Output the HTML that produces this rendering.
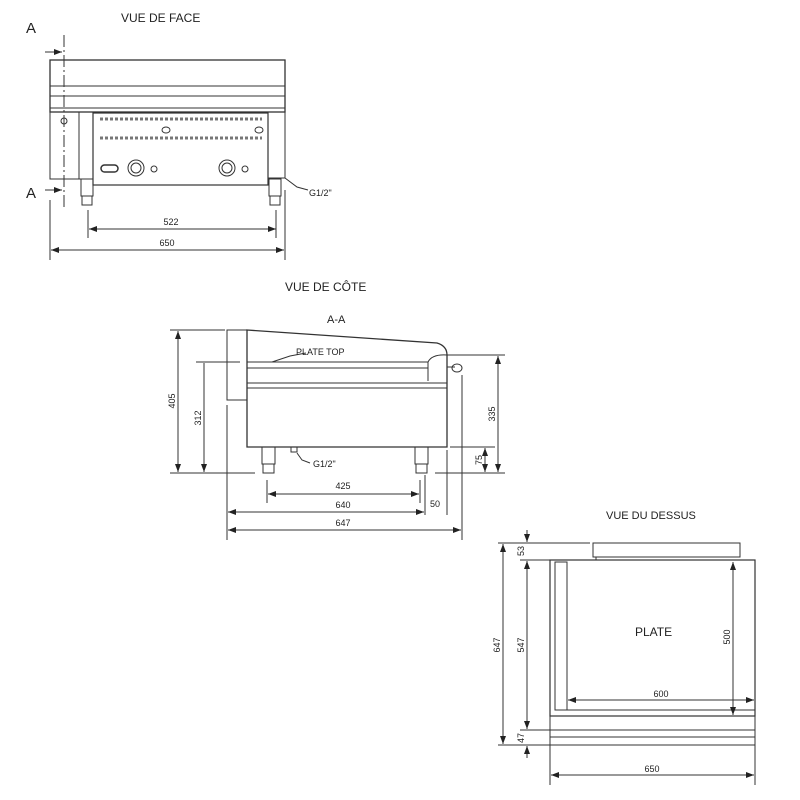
<!DOCTYPE html>
<html><head><meta charset="utf-8"><style>
html,body{margin:0;padding:0;background:#fff}
svg{display:block}
text{font-family:"Liberation Sans",sans-serif;fill:#222}
</style></head><body>
<svg width="800" height="800" viewBox="0 0 800 800" xmlns="http://www.w3.org/2000/svg">
<defs>
<marker id="a" markerWidth="8" markerHeight="6" refX="8" refY="3" orient="auto-start-reverse"><path d="M0,0 L8,3 L0,6 z" fill="#222"/></marker>
</defs>
<g stroke="#333" fill="none" stroke-width="1">
<!-- FRONT VIEW -->
<rect x="50" y="60" width="235" height="52" stroke-width="1.3"/>
<line x1="50" y1="86" x2="285" y2="86"/>
<line x1="50" y1="96" x2="285" y2="96"/>
<line x1="50" y1="108" x2="285" y2="108"/>
<rect x="50" y="112" width="29" height="67"/>
<rect x="79" y="112" width="14" height="67"/>
<rect x="93" y="113" width="175" height="72" stroke-width="1.2"/>
<rect x="268" y="112" width="17" height="66"/>
<rect x="81" y="179" width="12" height="17"/><rect x="82" y="196" width="10" height="9"/>
<rect x="269" y="179" width="12" height="17"/><rect x="270" y="196" width="10" height="9"/>
<line x1="100" y1="119" x2="262" y2="119" stroke-dasharray="3,2" stroke-width="3" stroke="#777"/>
<line x1="100" y1="138" x2="262" y2="138" stroke-dasharray="3,2" stroke-width="3" stroke="#777"/>
<ellipse cx="166" cy="130" rx="4" ry="3"/><ellipse cx="259" cy="130" rx="4" ry="3"/>
<circle cx="64" cy="121" r="3"/>
<rect x="101" y="165" width="17" height="7" rx="3.5" stroke-width="1.5"/>
<circle cx="136" cy="168" r="8"/><circle cx="136" cy="168" r="5"/>
<circle cx="154" cy="169" r="3"/>
<circle cx="227" cy="168" r="8"/><circle cx="227" cy="168" r="5"/>
<circle cx="245" cy="169" r="3"/>
<line x1="64" y1="35" x2="64" y2="210" stroke-dasharray="12,3,2,3"/>
<line x1="45" y1="52" x2="62" y2="52" marker-end="url(#a)"/>
<line x1="45" y1="190" x2="62" y2="190" marker-end="url(#a)"/>
<path d="M285,178 L297,187 L308,190" />
<line x1="88" y1="210" x2="88" y2="238"/><line x1="276" y1="210" x2="276" y2="238"/>
<line x1="89" y1="229" x2="276" y2="229" marker-start="url(#a)" marker-end="url(#a)"/>
<line x1="50" y1="200" x2="50" y2="260"/><line x1="285" y1="190" x2="285" y2="260"/>
<line x1="51" y1="250" x2="284" y2="250" marker-start="url(#a)" marker-end="url(#a)"/>

<!-- SIDE VIEW -->
<path d="M227,330 L247,330 L247,400 L227,400 Z"/>
<path d="M247,330 L437,343 Q447,346 447,355 L447,447 L247,447 Z" stroke-width="1.3"/>
<line x1="247" y1="362" x2="428" y2="362"/>
<line x1="247" y1="368" x2="428" y2="368"/>
<line x1="247" y1="383" x2="447" y2="383"/>
<line x1="247" y1="388" x2="447" y2="388"/>
<path d="M428,362 Q432,354 447,355"/><line x1="428" y1="362" x2="428" y2="381"/>
<path d="M447,367 L455,367" /><ellipse cx="457" cy="368" rx="5" ry="4"/>
<path d="M306,353 L290,356 L272,362"/>
<rect x="262" y="447" width="13" height="17"/><rect x="263" y="464" width="11" height="9"/>
<rect x="415" y="447" width="13" height="17"/><rect x="416" y="464" width="11" height="9"/>
<rect x="291" y="447" width="6" height="5"/>
<path d="M297,453 L302,460 L310,463"/>
<line x1="170" y1="330" x2="225" y2="330"/>
<line x1="178" y1="331" x2="178" y2="472" marker-start="url(#a)" marker-end="url(#a)"/>
<line x1="196" y1="362" x2="240" y2="362"/>
<line x1="204" y1="363" x2="204" y2="472" marker-end="url(#a)"/>
<line x1="170" y1="473" x2="255" y2="473"/>
<line x1="435" y1="473" x2="505" y2="473"/>
<line x1="447" y1="355" x2="505" y2="355"/>
<line x1="498" y1="356" x2="498" y2="472" marker-start="url(#a)" marker-end="url(#a)"/>
<line x1="450" y1="447" x2="495" y2="447"/>
<line x1="485" y1="448" x2="485" y2="472" marker-start="url(#a)" marker-end="url(#a)"/>
<line x1="267" y1="480" x2="267" y2="503"/><line x1="420" y1="480" x2="420" y2="503"/>
<line x1="268" y1="494" x2="419" y2="494" marker-start="url(#a)" marker-end="url(#a)"/>
<line x1="227" y1="405" x2="227" y2="540"/>
<line x1="425" y1="475" x2="425" y2="515"/><line x1="447" y1="450" x2="447" y2="515"/>
<line x1="228" y1="512" x2="424" y2="512" marker-start="url(#a)" marker-end="url(#a)"/>
<line x1="462" y1="375" x2="462" y2="540"/>
<line x1="228" y1="530" x2="461" y2="530" marker-start="url(#a)" marker-end="url(#a)"/>

<!-- TOP VIEW -->
<rect x="593" y="543" width="147" height="14"/>
<line x1="596" y1="557" x2="596" y2="560"/>
<rect x="550" y="560" width="205" height="156" stroke-width="1.2"/>
<rect x="555" y="562" width="12" height="148"/>
<line x1="567" y1="710" x2="755" y2="710"/>
<line x1="550" y1="730" x2="755" y2="730"/>
<line x1="550" y1="737" x2="755" y2="737"/>
<line x1="550" y1="745" x2="755" y2="745"/>
<line x1="550" y1="716" x2="550" y2="785"/><line x1="755" y1="716" x2="755" y2="785"/>
<line x1="498" y1="543" x2="590" y2="543"/>
<line x1="520" y1="560" x2="550" y2="560"/>
<line x1="498" y1="745" x2="550" y2="745"/>
<line x1="520" y1="730" x2="550" y2="730"/>
<line x1="503" y1="544" x2="503" y2="744" marker-start="url(#a)" marker-end="url(#a)"/>
<line x1="527" y1="530" x2="527" y2="542" marker-end="url(#a)"/>
<line x1="527" y1="561" x2="527" y2="729" marker-start="url(#a)" marker-end="url(#a)"/>
<line x1="527" y1="758" x2="527" y2="746" marker-end="url(#a)"/>
<line x1="733" y1="562" x2="733" y2="715" marker-start="url(#a)" marker-end="url(#a)"/>
<line x1="568" y1="700" x2="754" y2="700" marker-start="url(#a)" marker-end="url(#a)"/>
<line x1="551" y1="775" x2="754" y2="775" marker-start="url(#a)" marker-end="url(#a)"/>
</g>
<text x="121" y="22" font-size="12">VUE DE FACE</text>
<text x="26" y="33" font-size="15">A</text>
<text x="26" y="198" font-size="15">A</text>
<text x="309" y="196" font-size="9">G1/2"</text>
<text x="171" y="225" font-size="9" text-anchor="middle">522</text>
<text x="167" y="246" font-size="9" text-anchor="middle">650</text>

<text x="285" y="291" font-size="12">VUE DE CÔTE</text>
<text x="327" y="323" font-size="11">A-A</text>
<text x="296" y="355" font-size="9">PLATE TOP</text>
<text x="313" y="467" font-size="9">G1/2"</text>
<text x="343" y="489" font-size="9" text-anchor="middle">425</text>
<text x="343" y="508" font-size="9" text-anchor="middle">640</text>
<text x="435" y="507" font-size="9" text-anchor="middle">50</text>
<text x="343" y="526" font-size="9" text-anchor="middle">647</text>
<text transform="translate(175,401) rotate(-90)" font-size="9" text-anchor="middle">405</text>
<text transform="translate(201,418) rotate(-90)" font-size="9" text-anchor="middle">312</text>
<text transform="translate(495,414) rotate(-90)" font-size="9" text-anchor="middle">335</text>
<text transform="translate(482,460) rotate(-90)" font-size="9" text-anchor="middle">75</text>

<text x="606" y="519" font-size="11">VUE DU DESSUS</text>
<text x="635" y="636" font-size="12">PLATE</text>
<text x="661" y="697" font-size="9" text-anchor="middle">600</text>
<text x="652" y="772" font-size="9" text-anchor="middle">650</text>
<text transform="translate(500,645) rotate(-90)" font-size="9" text-anchor="middle">647</text>
<text transform="translate(524,645) rotate(-90)" font-size="9" text-anchor="middle">547</text>
<text transform="translate(524,551) rotate(-90)" font-size="9" text-anchor="middle">53</text>
<text transform="translate(524,738) rotate(-90)" font-size="9" text-anchor="middle">47</text>
<text transform="translate(730,637) rotate(-90)" font-size="9" text-anchor="middle">500</text>
</svg>
</body></html>
